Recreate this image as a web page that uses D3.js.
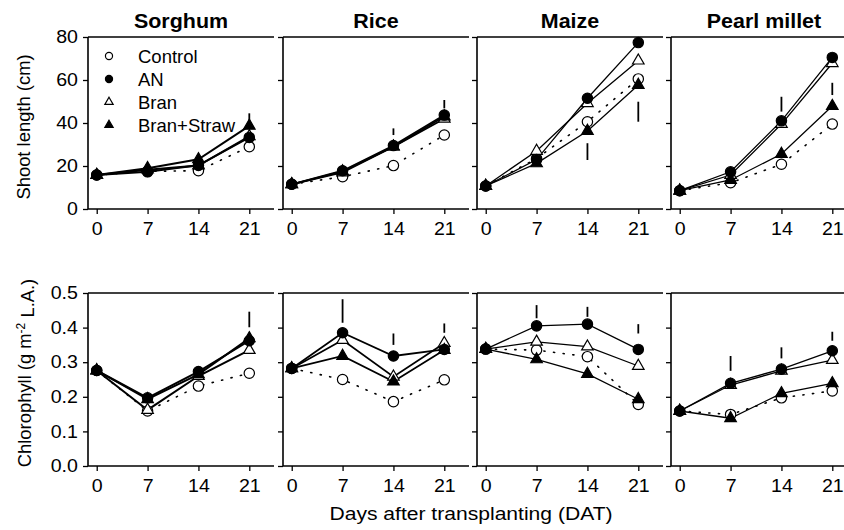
<!DOCTYPE html>
<html>
<head>
<meta charset="utf-8">
<script src="https://cdn.jsdelivr.net/npm/d3@7"></script>
<style>
  body { margin: 0; background: #fff; }
  svg { font-family: Arial, "Liberation Sans", sans-serif; }
</style>
</head>
<body>
<div id="chart"></div>
<script>
// Shoot length and chlorophyll of four crops over time

const crops = ["Sorghum", "Rice", "Maize", "Pearl millet"];
const days = [0, 7, 14, 21];
const treatments = ["Control", "AN", "Bran", "Bran+Straw"];
const shootTicks = [0, 20, 40, 60, 80];
const chlTicks = [0.0, 0.1, 0.2, 0.3, 0.4, 0.5];

// rows = crops, columns = days
const shootControl = [[15.8, 17.5, 17.8, 29.0], [11.5, 15.0, 20.2, 34.4], [10.7, 23.5, 40.6, 60.5], [8.5, 12.2, 20.8, 39.5]];
const shootAN      = [[15.8, 17.3, 20.3, 33.3], [11.5, 17.8, 29.5, 43.7], [10.7, 23.0, 51.5, 77.4], [8.5, 17.3, 41.0, 70.5]];
const shootBran    = [[15.8, 18.3, 20.2, 33.8], [11.5, 17.0, 29.0, 42.0], [10.7, 27.0, 49.2, 69.0], [8.5, 15.8, 39.5, 67.8]];
const shootBS      = [[15.8, 19.0, 23.1, 38.7], [11.5, 17.5, 29.0, 43.0], [10.7, 21.2, 36.3, 57.7], [8.5, 13.5, 25.6, 47.9]];

const chlControl = [[0.276, 0.159, 0.231, 0.268], [0.282, 0.250, 0.186, 0.249], [0.338, 0.335, 0.316, 0.178], [0.159, 0.149, 0.197, 0.217]];
const chlAN      = [[0.276, 0.197, 0.273, 0.362], [0.282, 0.385, 0.318, 0.337], [0.338, 0.405, 0.410, 0.337], [0.159, 0.239, 0.280, 0.333]];
const chlBran    = [[0.276, 0.162, 0.260, 0.335], [0.282, 0.364, 0.258, 0.355], [0.338, 0.359, 0.345, 0.289], [0.159, 0.234, 0.275, 0.306]];
const chlBS      = [[0.276, 0.193, 0.265, 0.369], [0.282, 0.318, 0.244, 0.335], [0.338, 0.308, 0.266, 0.193], [0.159, 0.138, 0.210, 0.239]];

// LSD bars: [crop index, day, low, high]
const shootBars = [[0, 21, 39.5, 44.5], [1, 14, 34.4, 37.5], [1, 21, 46.8, 50.7], [2, 14, 22.8, 30.6], [2, 21, 40.6, 49.9], [3, 14, 45.3, 52.2], [3, 21, 53.0, 58.7]];
const chlBars = [[0, 21, 0.401, 0.446], [1, 7, 0.414, 0.482], [1, 14, 0.350, 0.383], [1, 21, 0.385, 0.412],
                 [2, 7, 0.427, 0.465], [2, 14, 0.431, 0.460], [2, 21, 0.383, 0.410],
                 [3, 7, 0.275, 0.318], [3, 14, 0.311, 0.343], [3, 21, 0.362, 0.388]];

const width = 844, height = 530;
const panelLeft = [88, 283, 477, 671];
const panelW = 186;
const lineW = [2.0, 1.8, 1.3, 1.3];
const stretch = 1.12;   // text in the original is a bit wide

const svg = d3.select("#chart").append("svg")
    .attr("width", width).attr("height", height);

const x = d3.scaleLinear().domain([-1.2, 24.4]).range([0, panelW]);

const styles = {
    "Control":    { shape: d3.symbolCircle,   fill: "#fff", dash: "1.2,8.5" },
    "AN":         { shape: d3.symbolCircle,   fill: "#000", dash: null },
    "Bran":       { shape: d3.symbolTriangle, fill: "#fff", dash: null },
    "Bran+Straw": { shape: d3.symbolTriangle, fill: "#000", dash: null }
};

function symbolPath(t, big) {
    const s = styles[t];
    const isTri = s.shape === d3.symbolTriangle;
    const size = big ? (isTri ? 58 : 84) : (isTri ? 30 : 40);
    return d3.symbol().type(s.shape).size(size)();
}

function drawRow(rowTop, rowBottom, domain, ticks, fmt, series, bars, showLegend) {
    const y = d3.scaleLinear().domain(domain).range([rowBottom, rowTop]);

    crops.forEach((crop, ci) => {
        const g = svg.append("g").attr("transform", `translate(${panelLeft[ci]},0)`);

        g.append("line").attr("x1", 0).attr("x2", panelW).attr("y1", rowTop).attr("y2", rowTop)
            .attr("stroke", "#000").attr("stroke-width", 1.6);

        const yAxis = g.append("g").call(d3.axisLeft(y).tickValues(ticks).tickSize(5).tickPadding(4)
            .tickFormat(ci === 0 ? fmt : ""));
        const xAxis = g.append("g").attr("transform", `translate(0,${rowBottom})`)
            .call(d3.axisBottom(x).tickValues(days).tickSize(5).tickPadding(9));
        [yAxis, xAxis].forEach(a => {
            a.select(".domain").attr("stroke", "#000").attr("stroke-width", 1.6);
            a.selectAll(".tick line").attr("stroke", "#000").attr("stroke-width", 1.3);
            a.selectAll("text").attr("fill", "#000").style("font-size", "17.5px")
                .attr("transform", `scale(${stretch},1)`);
        });
        yAxis.select(".domain").attr("d", `M0,${rowTop}V${rowBottom}`);
        xAxis.select(".domain").attr("d", `M0,0H${panelW}`);

        const line = d3.line().x((d, i) => x(days[i])).y(d => y(d));

        treatments.forEach((t, ti) => {
            g.append("path")
                .datum(series[ti][ci])
                .attr("d", line)
                .attr("fill", "none")
                .attr("stroke", "#000")
                .attr("stroke-width", t === "Control" ? 1.6 : lineW[ci])
                .attr("stroke-linecap", t === "Control" ? "round" : "butt")
                .attr("stroke-dasharray", styles[t].dash);
        });

        ["Control", "Bran", "Bran+Straw", "AN"].forEach(t => {
            const ti = treatments.indexOf(t);
            g.selectAll(null)
                .data(series[ti][ci])
                .enter().append("path")
                .attr("transform", (d, i) => `translate(${x(days[i])},${y(d)})`)
                .attr("d", symbolPath(t, true))
                .attr("fill", styles[t].fill)
                .attr("stroke", "#000")
                .attr("stroke-width", 1.2);
        });

        // LSD bars
        g.selectAll(null)
            .data(bars.filter(b => b[0] === ci))
            .enter().append("line")
            .attr("x1", d => x(d[1])).attr("x2", d => x(d[1]))
            .attr("y1", d => y(d[2])).attr("y2", d => y(d[3]))
            .attr("stroke", "#000").attr("stroke-width", 1.8);

        if (showLegend && ci === 0) {
            const leg = g.append("g");
            treatments.forEach((t, ti) => {
                const ly = 56 + ti * 23;
                leg.append("path")
                    .attr("transform", `translate(21,${ly})`)
                    .attr("d", symbolPath(t, false))
                    .attr("fill", styles[t].fill)
                    .attr("stroke", "#000").attr("stroke-width", 1.2);
                leg.append("text")
                    .attr("x", 50).attr("y", ly).attr("dy", "0.36em")
                    .style("font-size", "18.5px")
                    .text(t);
            });
        }
    });
}

drawRow(37, 209, [0, 80], shootTicks, d3.format("d"),
    [shootControl, shootAN, shootBran, shootBS], shootBars, true);
drawRow(293, 466, [0, 0.5], chlTicks, d3.format(".1f"),
    [chlControl, chlAN, chlBran, chlBS], chlBars, false);

// titles
crops.forEach((crop, ci) => {
    svg.append("text")
        .attr("transform", `translate(${panelLeft[ci] + 93},28) scale(1.1,1)`)
        .attr("text-anchor", "middle")
        .style("font-size", "19.5px").style("font-weight", "bold")
        .text(crop);
});

// axis titles
svg.append("text")
    .attr("transform", "translate(30,127) rotate(-90)")
    .attr("text-anchor", "middle")
    .style("font-size", "18.4px")
    .text("Shoot length (cm)");

const chl = svg.append("text")
    .attr("transform", "translate(31,373) rotate(-90)")
    .attr("text-anchor", "middle")
    .style("font-size", "18.4px");
chl.append("tspan").text("Chlorophyll (g m");
chl.append("tspan").attr("dy", "-0.5em").style("font-size", "12px").text("-2");
chl.append("tspan").attr("dy", "0.5em").text(" L.A.)");

svg.append("text")
    .attr("transform", "translate(471,520) scale(1.14,1)")
    .attr("text-anchor", "middle")
    .style("font-size", "18.5px")
    .text("Days after transplanting (DAT)");
</script>
</body>
</html>
